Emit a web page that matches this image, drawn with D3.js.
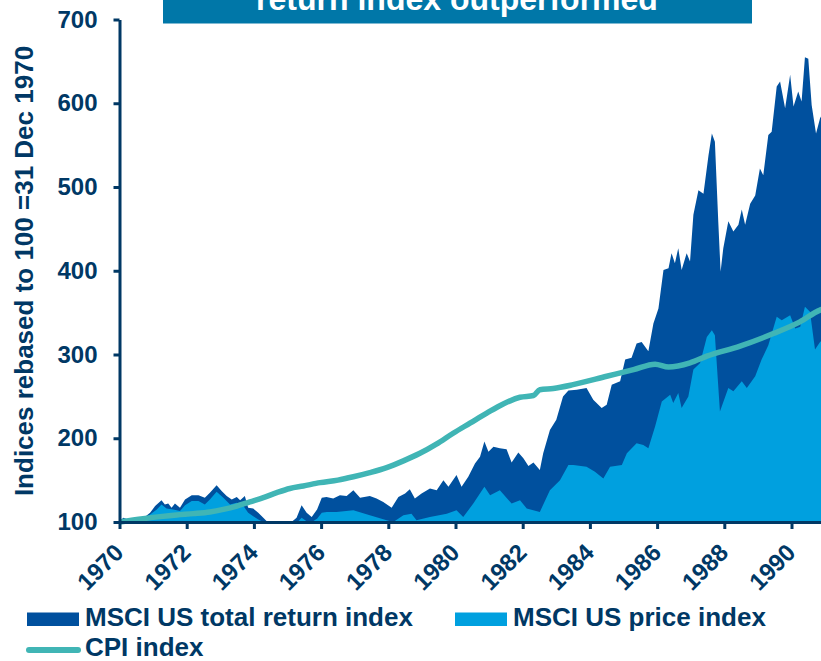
<!DOCTYPE html>
<html>
<head>
<meta charset="utf-8">
<script src="https://cdnjs.cloudflare.com/ajax/libs/d3/7.8.5/d3.min.js"></script>
<style>
  body { margin: 0; background: #fff; }
  svg { display: block; font-family: "Liberation Sans", Arial, sans-serif; font-weight: bold; }
</style>
</head>
<body>
<svg id="chart"></svg>
<script>
// chart size
var width = 821;
var height = 661;

// series: [year, index level], 100 = 31 Dec 1970
const totalReturn = [
  [1970.00,100],[1970.11,105],[1970.41,101],[1970.66,103],[1970.91,111],[1971.06,119],[1971.25,126],
  [1971.35,121],[1971.45,122],[1971.55,117],[1971.65,122],[1971.80,117],[1971.95,127],[1972.15,132],
  [1972.35,132],[1972.54,129],[1972.69,135],[1972.89,144],[1973.04,137],[1973.19,131],[1973.34,127],
  [1973.49,130],[1973.59,126],[1973.73,131],[1973.83,117],[1973.98,116],[1974.13,111],[1974.28,105],
  [1974.43,99],[1974.60,92],[1974.80,85],[1975.00,90],[1975.12,100],[1975.27,105],[1975.42,120],
  [1975.57,111],[1975.72,106],[1975.88,115],[1976.02,129],[1976.16,130],[1976.36,128],[1976.56,132],
  [1976.76,131],[1976.96,138],[1977.16,129],[1977.45,131],[1977.65,128],[1977.85,124],[1978.10,117],
  [1978.30,130],[1978.50,134],[1978.64,139],[1978.79,128],[1978.99,134],[1979.24,140],[1979.44,138],
  [1979.64,150],[1979.79,142],[1980.03,156],[1980.18,142],[1980.38,154],[1980.58,170],[1980.73,178],
  [1980.86,196],[1980.98,184],[1981.13,190],[1981.32,188],[1981.52,187],[1981.67,171],[1981.87,183],
  [1982.02,176],[1982.17,167],[1982.32,171],[1982.51,162],[1982.61,182],[1982.81,210],[1983.00,222],
  [1983.20,250],[1983.36,257],[1983.61,258],[1983.90,260],[1984.10,246],[1984.35,236],[1984.50,240],
  [1984.65,264],[1984.90,268],[1985.05,294],[1985.24,296],[1985.39,313],[1985.54,315],[1985.74,304],
  [1985.89,337],[1986.04,355],[1986.19,401],[1986.34,403],[1986.43,421],[1986.53,409],[1986.63,427],
  [1986.73,401],[1986.88,421],[1986.98,411],[1987.08,467],[1987.23,496],[1987.38,492],[1987.53,538],
  [1987.63,564],[1987.72,554],[1987.82,459],[1987.89,399],[1987.97,427],[1988.12,459],[1988.27,447],
  [1988.42,455],[1988.52,473],[1988.62,455],[1988.77,480],[1988.92,490],[1989.06,522],[1989.16,514],
  [1989.31,562],[1989.41,566],[1989.56,620],[1989.66,626],[1989.81,594],[1989.96,634],[1990.06,596],
  [1990.20,614],[1990.30,602],[1990.40,655],[1990.50,653],[1990.60,598],[1990.73,564],[1990.85,582],
  [1990.95,590]
];
const priceIndex = [
  [1970.00,100],[1970.11,103],[1970.40,100.5],[1970.66,102],[1970.91,109],[1971.11,115],[1971.25,121],
  [1971.40,116],[1971.60,115],[1971.80,113],[1971.95,120],[1972.15,125],[1972.35,125],[1972.54,121],
  [1972.69,127],[1972.89,136],[1973.09,129],[1973.29,121],[1973.49,123],[1973.69,119],[1973.83,111],
  [1973.98,107],[1974.13,103],[1974.28,100],[1974.50,92],[1974.80,80],[1975.00,85],[1975.20,95],
  [1975.30,100],[1975.42,105],[1975.57,101],[1975.72,100],[1975.88,104],[1976.02,111],[1976.17,112],
  [1976.46,112],[1976.96,114],[1977.45,108],[1977.95,102],[1978.15,100],[1978.45,108],[1978.69,110],
  [1978.84,102],[1979.24,106],[1979.74,110],[1980.03,114],[1980.23,106],[1980.53,122],[1980.86,142],
  [1981.03,132],[1981.32,138],[1981.67,122],[1981.92,126],[1982.12,116],[1982.51,112],[1982.81,138],
  [1983.11,150],[1983.36,168],[1983.51,168],[1983.90,166],[1984.15,160],[1984.40,152],[1984.60,166],
  [1984.95,168],[1985.10,182],[1985.39,194],[1985.59,192],[1985.74,188],[1985.94,214],[1986.14,244],
  [1986.39,252],[1986.48,242],[1986.63,254],[1986.73,236],[1986.93,250],[1987.08,282],[1987.28,290],
  [1987.48,321],[1987.63,329],[1987.72,323],[1987.87,232],[1988.12,260],[1988.27,256],[1988.52,268],
  [1988.67,260],[1988.92,274],[1989.11,294],[1989.31,311],[1989.56,345],[1989.71,341],[1989.96,347],
  [1990.11,331],[1990.26,333],[1990.40,357],[1990.55,351],[1990.70,306],[1990.85,315],[1990.95,318]
];
const cpiIndex = [
  [1970.00,100],[1970.70,104],[1971.21,106.4],[1971.70,108.4],[1972.20,110],[1972.69,112],[1973.09,115],
  [1973.49,119],[1973.88,124],[1974.28,129],[1974.68,135],[1975.07,140],[1975.47,143],[1975.97,147],
  [1976.50,150],[1976.96,154],[1977.45,159],[1977.95,165],[1978.45,173],[1978.94,182],[1979.43,193],
  [1979.93,206],[1980.43,218],[1980.93,230],[1981.42,241],[1981.92,249],[1982.32,251],[1982.51,258],
  [1982.91,259.5],[1983.50,264],[1984.50,274],[1985.30,282],[1985.94,288.5],[1986.34,285],[1986.98,290],
  [1987.48,298],[1988.47,310],[1989.46,325],[1990.25,339],[1990.85,353],[1991.00,355]
];
const xTicks = [1970, 1972, 1974, 1976, 1978, 1980, 1982, 1984, 1986, 1988, 1990];
const yTicks = [100, 200, 300, 400, 500, 600, 700];
const legendItems = [
  {name: "MSCI US total return index", kind: "rect", color: "#00509e"},
  {name: "MSCI US price index", kind: "rect", color: "#00a0df"},
  {name: "CPI index", kind: "line", color: "#40b5b5"}
];
const titleText = "return index outperformed";

var navy = "#003865";

var svg = d3.select("#chart")
    .attr("width", width)
    .attr("height", height);

var x = d3.scaleLinear().domain([1970, 1990]).range([119.5, 791.5]);
var y = d3.scaleLinear().domain([100, 700]).range([522, 19.5]);

// clip so values under 100 disappear below the axis
svg.append("clipPath").attr("id", "plotclip")
  .append("rect")
    .attr("x", x(1970)).attr("y", 0)
    .attr("width", width - x(1970)).attr("height", y(100));

var plot = svg.append("g").attr("clip-path", "url(#plotclip)");

var area = d3.area()
    .x(d => x(d[0]))
    .y0(y(100))
    .y1(d => y(d[1]));

plot.append("path").datum(totalReturn)
    .attr("d", area)
    .attr("fill", legendItems[0].color);
plot.append("path").datum(priceIndex)
    .attr("d", area)
    .attr("fill", legendItems[1].color);

var line = d3.line()
    .x(d => x(d[0]))
    .y(d => y(d[1]))
    .curve(d3.curveMonotoneX);

svg.append("path").datum(cpiIndex)
    .attr("d", line)
    .attr("fill", "none")
    .attr("stroke", legendItems[2].color)
    .attr("stroke-width", 5.5)
    .attr("stroke-linejoin", "round");

// y axis
var yAxis = svg.append("g")
    .attr("transform", "translate(" + x(1970) + ",0)")
    .call(d3.axisLeft(y).tickValues(yTicks).tickSize(6).tickSizeOuter(0).tickPadding(16));
yAxis.select(".domain").attr("stroke", navy).attr("stroke-width", 3);
yAxis.selectAll(".tick line").attr("stroke", navy).attr("stroke-width", 3);
yAxis.selectAll(".tick text")
    .attr("fill", navy)
    .style("font-size", "24px")
    .style("font-weight", "bold")
    .style("font-family", "Liberation Sans, Arial, sans-serif");

// x axis, reaching the right edge
var xFull = x.copy().domain([1970, x.invert(width)]).range([x(1970), width]);
var xAxis = svg.append("g")
    .attr("transform", "translate(0," + y(100) + ")")
    .call(d3.axisBottom(xFull).tickValues(xTicks).tickFormat(d3.format("d")).tickSize(7).tickSizeOuter(0));
xAxis.select(".domain").attr("stroke", navy).attr("stroke-width", 3);
xAxis.selectAll(".tick line").attr("stroke", navy).attr("stroke-width", 3);
xAxis.selectAll(".tick text")
    .attr("fill", navy)
    .attr("y", 0).attr("dy", 0)
    .attr("text-anchor", "end")
    .attr("transform", "translate(5,32) rotate(-45)")
    .style("font-size", "24px")
    .style("font-weight", "bold")
    .style("font-family", "Liberation Sans, Arial, sans-serif");

// y axis title
svg.append("text")
    .attr("transform", "translate(33,271) rotate(-90)")
    .attr("text-anchor", "middle")
    .attr("fill", navy)
    .style("font-size", "26px")
    .text("Indices rebased to 100 =31 Dec 1970");

// title banner (top of it cut off, as in the source)
svg.append("rect")
    .attr("x", 163).attr("y", 0)
    .attr("width", 589).attr("height", 23.5)
    .attr("fill", "#0077a8");
svg.append("text")
    .attr("x", 457).attr("y", 9.5)
    .attr("text-anchor", "middle")
    .attr("fill", "#fff")
    .style("font-size", "32px")
    .text(titleText);

// legend
var legendPos = [[27, 626], [455, 626], [27, 656]];
var leg = svg.selectAll(".leg").data(legendItems).enter().append("g")
    .attr("class", "leg")
    .attr("transform", (d, i) => "translate(" + legendPos[i][0] + "," + legendPos[i][1] + ")");
leg.filter(d => d.kind == "rect").append("rect")
    .attr("x", 0).attr("y", -13.5)
    .attr("width", 52).attr("height", 13.5)
    .attr("fill", d => d.color);
leg.filter(d => d.kind == "line").append("line")
    .attr("x1", 2).attr("x2", 51)
    .attr("y1", -6).attr("y2", -6)
    .attr("stroke", d => d.color)
    .attr("stroke-width", 6)
    .attr("stroke-linecap", "round");
leg.append("text")
    .attr("x", 58).attr("y", 0)
    .attr("fill", navy)
    .style("font-size", "26px")
    .text(d => d.name);
</script>
</body>
</html>
